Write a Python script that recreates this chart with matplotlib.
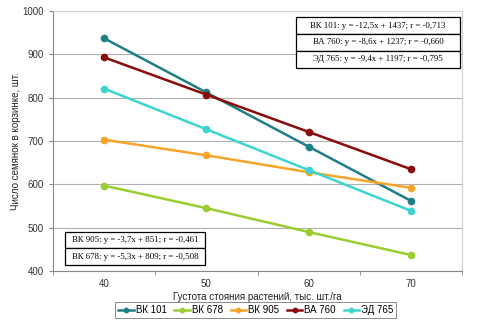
import matplotlib.pyplot as plt
import numpy as np

density = ["40", "50", "60", "70"]
names = ["ВК 101", "ВК 678", "ВК 905", "ВА 760", "ЭД 765"]
vk101 = [937, 812, 687, 562]
vk678 = [597, 545, 490, 437]
vk905 = [703, 667, 628, 592]
va760 = [893, 807, 721, 635]
ed765 = [821, 727, 633, 539]
colors = ["#1f7f86", "#9acd32", "#f7a42a", "#8b0a0a", "#3cd3d0"]

eq_top = ["ВК 101: y = -12,5x + 1437; r = -0,713",
          "ВА 760: y = -8,6x + 1237; r = -0,660",
          "ЭД 765: y = -9,4x + 1197; r = -0,795"]
eq_bottom = ["ВК 905: y = -3,7x + 851; r = -0,461",
             "ВК 678: y = -5,3x + 809; r = -0,508"]

plt.rcParams["font.family"] = ["Liberation Sans", "DejaVu Sans"]

fig = plt.figure(figsize=(4.88, 3.23), dpi=100)
ax = fig.add_axes([53 / 488, 1 - 271 / 323, (462 - 53) / 488, (271 - 11) / 323])

x = np.arange(len(density))
for vals, name, c in zip([vk101, vk678, vk905, va760, ed765], names, colors):
    ax.plot(x, vals, "-o", color=c, lw=1.8, ms=4.5, label=name)

ax.set_xlim(-0.5, len(density) - 0.5)
ax.set_ylim(400, 1000)
ax.set_yticks(range(400, 1001, 100))
ax.set_xticks(x)
ax.set_xticklabels(density)
ax.set_xticks(np.arange(-0.5, len(density), 1), minor=True)
ax.tick_params(axis="x", which="major", length=0, labelsize=7, pad=6, colors="#333333")
ax.tick_params(axis="x", which="minor", length=3, color="#888888")
ax.tick_params(axis="y", length=3, color="#888888", labelsize=7, labelcolor="#333333")
ax.grid(axis="y", color="#b0b0b0", lw=0.8)
ax.set_axisbelow(True)
for side in ["top", "right"]:
    ax.spines[side].set_color("#d0d0d0")
for side in ["left", "bottom"]:
    ax.spines[side].set_color("#888888")

ax.set_xlabel("Густота стояния растений, тыс. шт./га", fontsize=7, labelpad=2, color="#222222")
ax.set_ylabel("Число семянок в корзинке, шт.", fontsize=7, labelpad=1, color="#222222")

# equation boxes
def eq_box(lines, x0, y0, w, h):
    for i, t in enumerate(lines):
        yb = y0 - (i + 1) * h
        ax.add_patch(plt.Rectangle((x0, yb), w, h, fill=True, fc="white", ec="black", lw=0.9,
                                   transform=ax.transData, zorder=5))
        ax.text(x0 + w / 2, yb + h / 2, t, ha="center", va="center", fontsize=6.3,
                family=["Liberation Serif", "DejaVu Serif"], zorder=6)

eq_box(eq_top, 1.88, 986, 1.6, 39)
eq_box(eq_bottom, -0.38, 490, 1.37, 38)

leg = fig.legend(loc="lower center", bbox_to_anchor=(0.524, 0.0), ncol=5, fontsize=7,
                 frameon=True, fancybox=False, edgecolor="#555555", handlelength=1.6,
                 handletextpad=0.2, columnspacing=0.8, borderpad=0.3, markerscale=0.7)
leg.get_frame().set_linewidth(0.6)

fig.savefig("out.png", dpi=100)
